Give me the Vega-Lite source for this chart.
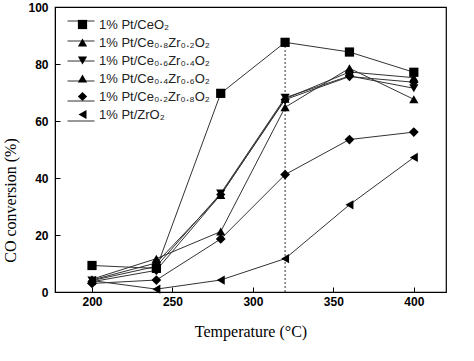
{
  "$schema": "https://vega.github.io/schema/vega-lite/v6.json",
  "width": 391,
  "height": 285,
  "autosize": {"type": "none"},
  "padding": {"left": 55, "top": 7, "right": 28, "bottom": 69},
  "background": "white",
  "config": {
    "view": {"stroke": "black", "strokeWidth": 1.2},
    "axis": {
      "grid": false,
      "domainColor": "black",
      "tickColor": "black",
      "tickSize": -5,
      "labelFont": "Liberation Sans",
      "labelFontWeight": "bold",
      "labelFontSize": 12,
      "labelColor": "black",
      "titleFont": "Liberation Serif",
      "titleFontWeight": "normal",
      "titleFontSize": 16,
      "titleColor": "black"
    }
  },
  "data": {
    "values": [
      {"series": "1% Pt/CeO₂", "temp": 200, "conv": 9.3},
      {"series": "1% Pt/CeO₂", "temp": 240, "conv": 8.3},
      {"series": "1% Pt/CeO₂", "temp": 280, "conv": 69.7},
      {"series": "1% Pt/CeO₂", "temp": 320, "conv": 87.6},
      {"series": "1% Pt/CeO₂", "temp": 360, "conv": 84.2},
      {"series": "1% Pt/CeO₂", "temp": 400, "conv": 77.1},
      {"series": "1% Pt/Ce₀.₈Zr₀.₂O₂", "temp": 200, "conv": 4.5},
      {"series": "1% Pt/Ce₀.₈Zr₀.₂O₂", "temp": 240, "conv": 11.7},
      {"series": "1% Pt/Ce₀.₈Zr₀.₂O₂", "temp": 280, "conv": 21.2},
      {"series": "1% Pt/Ce₀.₈Zr₀.₂O₂", "temp": 320, "conv": 64.8},
      {"series": "1% Pt/Ce₀.₈Zr₀.₂O₂", "temp": 360, "conv": 78.5},
      {"series": "1% Pt/Ce₀.₈Zr₀.₂O₂", "temp": 400, "conv": 67.6},
      {"series": "1% Pt/Ce₀.₆Zr₀.₄O₂", "temp": 200, "conv": 4.0},
      {"series": "1% Pt/Ce₀.₆Zr₀.₄O₂", "temp": 240, "conv": 9.0},
      {"series": "1% Pt/Ce₀.₆Zr₀.₄O₂", "temp": 280, "conv": 34.6},
      {"series": "1% Pt/Ce₀.₆Zr₀.₄O₂", "temp": 320, "conv": 68.2},
      {"series": "1% Pt/Ce₀.₆Zr₀.₄O₂", "temp": 360, "conv": 75.8},
      {"series": "1% Pt/Ce₀.₆Zr₀.₄O₂", "temp": 400, "conv": 71.5},
      {"series": "1% Pt/Ce₀.₄Zr₀.₆O₂", "temp": 200, "conv": 4.2},
      {"series": "1% Pt/Ce₀.₄Zr₀.₆O₂", "temp": 240, "conv": 10.2},
      {"series": "1% Pt/Ce₀.₄Zr₀.₆O₂", "temp": 280, "conv": 34.0},
      {"series": "1% Pt/Ce₀.₄Zr₀.₆O₂", "temp": 320, "conv": 67.8},
      {"series": "1% Pt/Ce₀.₄Zr₀.₆O₂", "temp": 360, "conv": 77.2},
      {"series": "1% Pt/Ce₀.₄Zr₀.₆O₂", "temp": 400, "conv": 75.2},
      {"series": "1% Pt/Ce₀.₂Zr₀.₈O₂", "temp": 200, "conv": 3.6},
      {"series": "1% Pt/Ce₀.₂Zr₀.₈O₂", "temp": 240, "conv": 7.6},
      {"series": "1% Pt/Ce₀.₂Zr₀.₈O₂", "temp": 280, "conv": 34.2},
      {"series": "1% Pt/Ce₀.₂Zr₀.₈O₂", "temp": 320, "conv": 67.5},
      {"series": "1% Pt/Ce₀.₂Zr₀.₈O₂", "temp": 360, "conv": 75.6},
      {"series": "1% Pt/Ce₀.₂Zr₀.₈O₂", "temp": 400, "conv": 73.6},
      {"series": "extra", "temp": 200, "conv": 3.0},
      {"series": "extra", "temp": 240, "conv": 4.2},
      {"series": "extra", "temp": 280, "conv": 18.6},
      {"series": "extra", "temp": 320, "conv": 41.2},
      {"series": "extra", "temp": 360, "conv": 53.5},
      {"series": "extra", "temp": 400, "conv": 56.1},
      {"series": "1% Pt/ZrO₂", "temp": 200, "conv": 4.0},
      {"series": "1% Pt/ZrO₂", "temp": 240, "conv": 1.0},
      {"series": "1% Pt/ZrO₂", "temp": 280, "conv": 4.2},
      {"series": "1% Pt/ZrO₂", "temp": 320, "conv": 11.7},
      {"series": "1% Pt/ZrO₂", "temp": 360, "conv": 30.6},
      {"series": "1% Pt/ZrO₂", "temp": 400, "conv": 47.2}
    ]
  },
  "encoding": {
    "x": {
      "field": "temp", "type": "quantitative",
      "scale": {"domain": [177, 420], "nice": false, "zero": false},
      "axis": {"values": [200, 250, 300, 350, 400], "title": "Temperature (°C)", "labelPadding": 9, "titleY": 31, "titleBaseline": "top"}
    },
    "y": {
      "field": "conv", "type": "quantitative",
      "scale": {"domain": [0, 100], "nice": false},
      "axis": {"values": [0, 20, 40, 60, 80, 100], "title": "CO conversion (%)", "labelPadding": 12, "titleX": -37, "titleY": 193}
    }
  },
  "layer": [
    {
      "data": {"values": [{"temp": 320, "lo": 0, "hi": 87.6}]},
      "mark": {"type": "rule", "color": "#333", "strokeWidth": 1, "strokeDash": [2, 2]},
      "encoding": {
        "x": {"field": "temp", "type": "quantitative"},
        "y": {"field": "lo", "type": "quantitative"},
        "y2": {"field": "hi"}
      }
    },
    {
      "transform": [{"filter": "datum.series != 'extra'"}],
      "mark": {"type": "line", "strokeWidth": 1},
      "encoding": {
        "color": {
          "field": "series", "type": "nominal", "sort": null,
          "scale": {
            "range": ["#333", "#333", "#333", "#333", "#333", "#333"]
          },
          "legend": {
            "orient": "none", "legendX": 12, "legendY": 0, "title": null, "padding": 0,
            "symbolType": "stroke", "symbolSize": 729, "symbolStrokeWidth": 1, "symbolStrokeColor": "#333",
            "labelFont": "Liberation Sans", "labelFontSize": 12, "labelOpacity": 0, "labelExpr": "' '", "rowPadding": -1
          }
        }
      }
    },
    {
      "transform": [{"filter": "datum.series == 'extra'"}],
      "mark": {"type": "line", "strokeWidth": 1, "color": "#333"}
    },
    {
      "transform": [{"filter": "datum.series != 'extra'"}],
      "mark": {"type": "point", "filled": true, "opacity": 1, "color": "black", "size": 85},
      "encoding": {
        "shape": {
          "field": "series", "type": "nominal", "sort": null,
          "scale": {
            "domain": ["1% Pt/CeO₂", "1% Pt/Ce₀.₈Zr₀.₂O₂", "1% Pt/Ce₀.₆Zr₀.₄O₂", "1% Pt/Ce₀.₄Zr₀.₆O₂", "1% Pt/Ce₀.₂Zr₀.₈O₂", "1% Pt/ZrO₂"],
            "range": ["square", "triangle-up", "triangle-down", "triangle-up", "diamond", "triangle-left"]
          },
          "legend": {
            "orient": "none", "legendX": 12, "legendY": 11, "title": null, "padding": 0,
            "symbolSize": 85, "symbolFillColor": "black", "symbolStrokeWidth": 0, "symbolOffset": 9,
            "labelFont": "Liberation Sans", "labelFontSize": 13, "labelColor": "#222", "labelOffset": 10, "rowPadding": 4
          }
        }
      }
    },
    {
      "transform": [{"filter": "datum.series == 'extra'"}],
      "mark": {"type": "point", "filled": true, "opacity": 1, "color": "black", "size": 95, "shape": "diamond"}
    }
  ]
}
